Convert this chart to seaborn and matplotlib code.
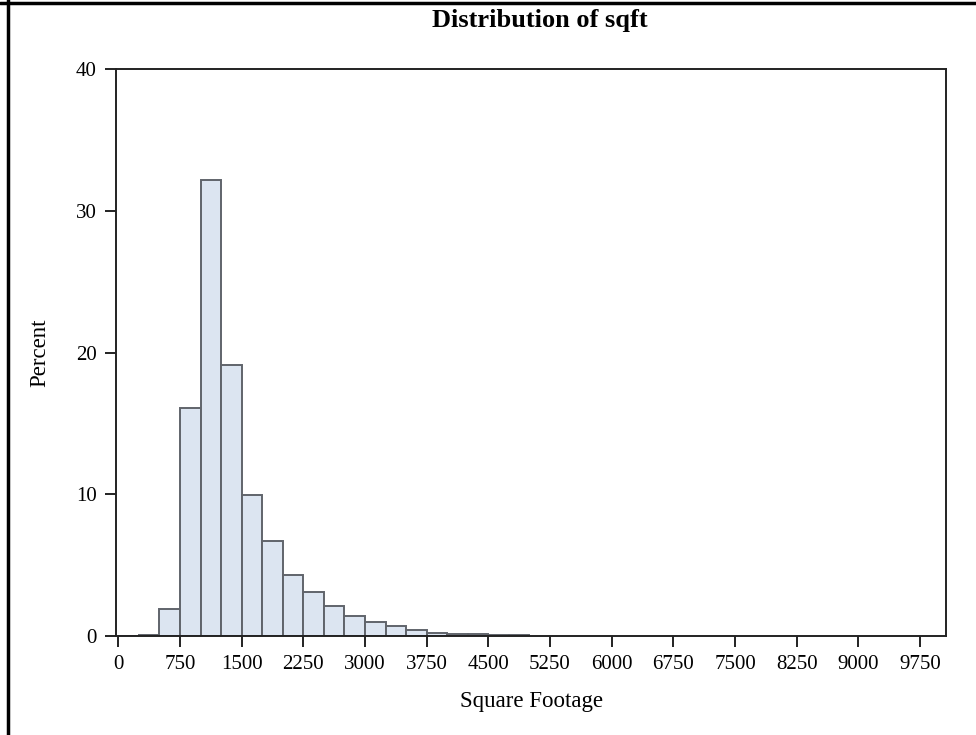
import matplotlib
matplotlib.use("Agg")
import matplotlib.pyplot as plt
import seaborn as sns
import numpy as np
from matplotlib.lines import Line2D

# ==========================
# Data (percent per 250 sq ft bin)
# ==========================
bin_width = 250
bin_starts = [0, 250, 500, 750, 1000, 1250, 1500, 1750, 2000, 2250,
              2500, 2750, 3000, 3250, 3500, 3750, 4000, 4250, 4500, 4750]
percent = [0.02, 0.08, 1.88, 16.1, 32.2, 19.1, 9.93, 6.68, 4.3, 3.13,
           2.12, 1.41, 0.96, 0.69, 0.42, 0.23, 0.16, 0.12, 0.06, 0.04]
x_ticks = [0, 750, 1500, 2250, 3000, 3750, 4500, 5250, 6000, 6750,
           7500, 8250, 9000, 9750]
y_ticks = [0, 10, 20, 30, 40]

# ==========================
# Plot
# ==========================
sns.set_style("white")
plt.rcParams["font.family"] = ["Liberation Serif", "DejaVu Serif"]
plt.rcParams["text.color"] = "black"
plt.rcParams["axes.labelcolor"] = "black"
plt.rcParams["xtick.color"] = "black"
plt.rcParams["ytick.color"] = "black"

fig = plt.figure(figsize=(9.76, 7.35), dpi=100)
ax = fig.add_axes([0.1189, 0.1347, 0.8504, 0.7714])

mids = [s + bin_width / 2 for s in bin_starts]
edges = bin_starts + [bin_starts[-1] + bin_width]
sns.histplot(x=mids, weights=percent, bins=edges, ax=ax,
             color="#dce5f1", edgecolor="#60646b", linewidth=1.4, alpha=1)

ax.set_xlim(-28, 10066)
ax.set_ylim(0, 40)
ax.set_xticks(x_ticks)
ax.set_yticks(y_ticks)
ax.tick_params(axis="both", direction="out", length=8, width=1.4,
               color="#222222", labelsize=15, pad=6, bottom=True, left=True)

for side in ["left", "right", "top", "bottom"]:
    ax.spines[side].set_color("#222222")
    ax.spines[side].set_linewidth(1.4)
    ax.spines[side].set_visible(True)

ax.set_xlabel("Square Footage", fontsize=16.5, labelpad=12)
ax.set_ylabel("Percent", fontsize=16.5, labelpad=18)

fig.text(0.553, 0.972, "Distribution of sqft", ha="center", va="center",
         fontsize=19, fontweight="bold")

# outer frame lines (top and left)
fig.add_artist(Line2D([0, 1], [0.9965, 0.9965], transform=fig.transFigure,
                      color="black", linewidth=2.5))
fig.add_artist(Line2D([0.0077, 0.0077], [0, 1], transform=fig.transFigure,
                      color="black", linewidth=2.5))

fig.savefig("out.png", dpi=100)
